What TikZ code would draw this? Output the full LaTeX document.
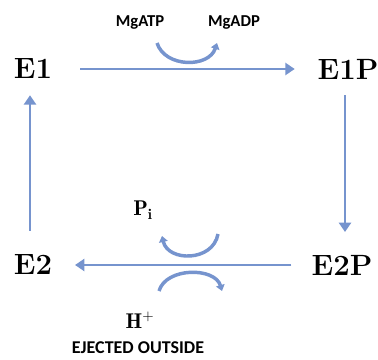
\documentclass[tikz,border=0pt]{standalone}
\usepackage{fontspec}
\usepackage{tikz}
\usetikzlibrary{positioning,calc,arrows.meta}
\newfontfamily\labelfont{Carlito}
\definecolor{pumpblue}{RGB}{118,148,206}

\begin{document}
\begin{tikzpicture}[x=0.75pt, y=-0.75pt, >=latex,
    state/.style={inner sep=0pt, font=\fontsize{22}{24}\selectfont\bfseries},
    ion/.style={inner sep=0pt, font=\fontsize{16}{18}\selectfont},
    small/.style={inner sep=0pt, font=\labelfont\fontsize{12.5}{14}\selectfont\bfseries},
    flow/.style={draw=pumpblue, line width=2.2pt, -{Triangle[length=7pt,width=9pt]}},
    halfarc/.style={draw=pumpblue, line width=2.6pt, -{Triangle[length=4.5pt,width=6.5pt]}}]
            \useasboundingbox (0,0) rectangle (378,360);

            % States of the pump
            \node[state] (e1) at (33,69) {E1};
            \node[state] (e1p) at (348,69) {E1P};
            \node[state] (e2) at (33,265) {E2};
            \node[state] (e2p) at (342,265) {E2P};

            % Cycle arrows
            \draw[flow, shorten <=21pt, shorten >=17pt] (e1.east) -- (e1p.west);
            \draw[flow, shorten <=12pt, shorten >=17pt] ([xshift=-2.25pt]e1p.south) -- ([xshift=-2.25pt]e1p.south |- e2p.north);
            \draw[flow, shorten <=15pt, shorten >=17pt] (e2p.west) -- (e2.east);
            \draw[flow, shorten <=18pt, shorten >=12pt] ([xshift=-2.25pt]e2.north) -- ([xshift=-2.25pt]e1.south);

            % Phosphorylation: MgATP in, MgADP out
            \node[small] (atp) at (140,23) {MgATP};
            \node[small] (adp) at (234,23) {MgADP};
            \coordinate (atpin) at (157,43);
            \coordinate (adpout) at (217,43);
            \draw[halfarc] (atpin) .. controls (165,68) and (209,68) .. (adpout);

            % Dephosphorylation: Pi released, H+ ejected
            \node[ion] (pi) at (143,210) {$\mathbf{P_{i}}$};
            \coordinate (piin) at (218,234);
            \coordinate (piout) at (162,236);
            \draw[halfarc] (piin) .. controls (213,262) and (168,262) .. (piout);

            \node[ion] (hplus) at (140,320) {$\mathbf{H^{+}}$};
            \coordinate (hin) at (159,291);
            \coordinate (hout) at (222,291);
            \draw[halfarc] (hin) .. controls (166,267) and (215,267) .. (hout);

            \node[small, font=\labelfont\fontsize{13.5}{15}\selectfont\bfseries] (out) at (138,348) {EJECTED OUTSIDE};
        \end{tikzpicture}
\end{document}
